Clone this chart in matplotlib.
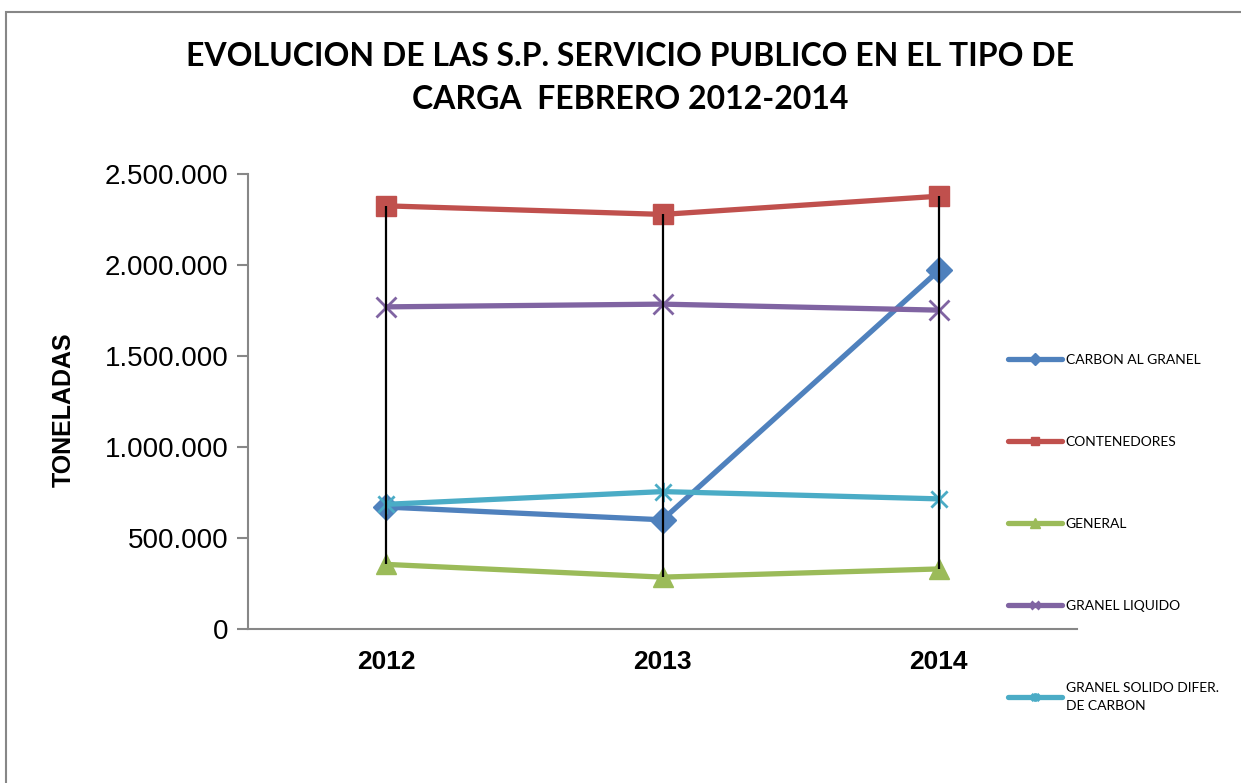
import matplotlib
matplotlib.use("Agg")
import matplotlib.pyplot as plt
from matplotlib.patches import Rectangle
from matplotlib.path import Path
from matplotlib.ticker import FuncFormatter, MultipleLocator

years = ["2012", "2013", "2014"]
series_names = ["CARBON AL GRANEL", "CONTENEDORES", "GENERAL", "GRANEL LIQUIDO",
                "GRANEL SOLIDO DIFER.\nDE CARBON"]
carbon = [670000, 600000, 1970000]
contenedores = [2325000, 2278000, 2378000]
general = [355000, 285000, 330000]
granel_liquido = [1770000, 1785000, 1752000]
granel_solido = [685000, 755000, 715000]

colors = ["#4F81BD", "#C0504D", "#9BBB59", "#8064A2", "#4BACC6"]

# asterisk style marker (x with vertical bar) like Excel's star marker
star = Path([(-1, -1), (1, 1), (-1, 1), (1, -1), (0, -1.2), (0, 1.2)],
            [Path.MOVETO, Path.LINETO, Path.MOVETO, Path.LINETO, Path.MOVETO, Path.LINETO])
markers = ["D", "s", "^", "x", star]
msizes = [13, 14, 15, 14, 14]

fig = plt.figure(figsize=(12.41, 7.83), dpi=100)
ax = fig.add_axes([248 / 1241, 1 - 629 / 783, (1077 - 248) / 1241, (629 - 174) / 783])

all_series = [carbon, contenedores, general, granel_liquido, granel_solido]
x = list(range(len(years)))
for vals, name, c, m, ms in zip(all_series, series_names, colors, markers, msizes):
    stroked = m is star or m == "x"
    ax.plot(x, vals, color=c, lw=3.8, marker=m, markersize=ms,
            markerfacecolor="none" if stroked else c, markeredgecolor=c,
            markeredgewidth=2 if stroked else 1,
            label=name, solid_capstyle="round", zorder=3)

# high-low lines
highs = [max(v) for v in zip(*all_series)]
lows = [min(v) for v in zip(*all_series)]
ax.vlines(x, lows, highs, color="black", lw=1.6, zorder=4)

ax.set_xlim(-0.5, 2.5)
ax.set_ylim(0, 2500000)
ax.yaxis.set_major_locator(MultipleLocator(500000))
ax.yaxis.set_major_formatter(FuncFormatter(lambda v, p: f"{v:,.0f}".replace(",", ".")))
ax.set_xticks(x)
ax.set_xticklabels(years, fontsize=19, fontweight="bold", family="Liberation Sans")
ax.tick_params(axis="x", length=0, pad=15)
ax.tick_params(axis="y", length=8, width=1.5, color="#878787", labelsize=20, pad=6)
for lab in ax.get_yticklabels():
    lab.set_family("Liberation Sans")
for s in ["top", "right"]:
    ax.spines[s].set_visible(False)
for s in ["left", "bottom"]:
    ax.spines[s].set_color("#878787")
    ax.spines[s].set_linewidth(1.5)

ax.set_ylabel("TONELADAS", fontsize=18, fontweight="bold", family="Liberation Sans")
ax.yaxis.set_label_coords(-0.208, 0.481)

fig.text(630 / 1241, 1 - 78 / 783,
         "EVOLUCION DE LAS S.P. SERVICIO PUBLICO EN EL TIPO DE\nCARGA  FEBRERO 2012-2014",
         ha="center", va="center", fontsize=23, fontweight="bold", family="Lato",
         linespacing=1.55)

leg = ax.legend(loc="upper left", bbox_to_anchor=(995 / 1241, 1 - 341 / 783),
                bbox_transform=fig.transFigure, frameon=False,
                prop={"family": "Lato", "size": 10}, markerscale=0.45,
                labelspacing=5.05, handlelength=3.9, handletextpad=0.3)
leg.get_texts()[-1].set_linespacing(1.6)

# outer chart frame
fig.add_artist(Rectangle((6 / 1241, -0.2), 1.5, 1.2 - 12 / 783, transform=fig.transFigure,
                         fill=False, edgecolor="#878787", lw=1.5))

fig.savefig("out.png", dpi=100)
